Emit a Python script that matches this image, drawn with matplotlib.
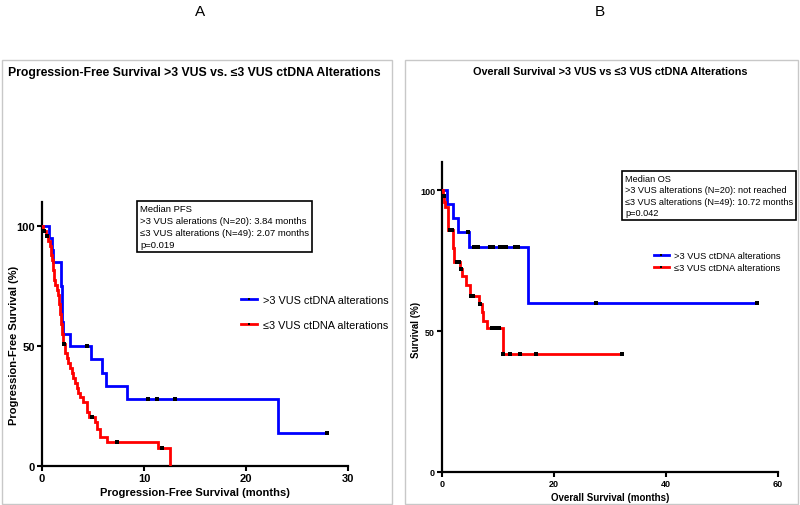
import matplotlib
matplotlib.use('Agg')
import matplotlib.pyplot as plt
from matplotlib.patches import Rectangle
from matplotlib.lines import Line2D

plt.rcParams['font.family'] = ['Liberation Sans', 'DejaVu Sans']

# ---------------- data ----------------
# Panel A: progression-free survival (months, % surviving)
pfs_hi_t = [0, 0.69, 1.0, 1.1, 1.86, 1.99, 2.09, 2.75, 4.8, 5.9, 6.3, 8.3, 23.1, 27.9]
pfs_hi_s = [100, 95, 90, 85, 75, 60, 55, 50, 44.4, 38.9, 33.3, 27.8, 13.9, 13.9]
pfs_hi_cens_t = [4.38, 10.4, 11.3, 13.0, 27.9]
pfs_hi_cens_s = [50, 27.8, 27.8, 27.8, 13.9]

pfs_lo_t = [0, 0.10, 0.39, 0.62, 0.78, 0.88, 0.95, 1.05, 1.18, 1.31, 1.44, 1.57, 1.67,
            1.76, 1.83, 1.93, 2.09, 2.25, 2.42, 2.58, 2.75, 2.91, 3.07, 3.24, 3.40, 3.56,
            3.73, 4.05, 4.38, 4.6, 5.2, 5.36, 5.69, 6.34, 11.4, 12.55]
pfs_lo_s = [100, 98.0, 95.9, 93.9, 91.8, 87.8, 85.7, 81.6, 77.6, 75.5, 73.5, 71.4, 67.3,
            63.3, 59.2, 55.1, 51.0, 46.9, 44.9, 42.8, 40.8, 38.8, 36.7, 34.7, 32.6, 30.6,
            28.6, 26.5, 22.4, 20.4, 18.4, 15.3, 12.2, 10.2, 7.6, 0]
pfs_lo_cens_t = [0.2, 0.45, 2.15, 4.87, 7.4, 11.8]
pfs_lo_cens_s = [98.0, 95.9, 51.0, 20.4, 10.2, 7.6]

# Panel B: overall survival
os_hi_t = [0, 0.83, 2.0, 2.8, 4.8, 15.3, 56.3]
os_hi_s = [100, 95, 90, 85, 79.9, 59.9, 59.9]
os_hi_cens_t = [4.6, 5.8, 6.4, 8.5, 9.1, 10.3, 10.9, 11.5, 13.0, 13.6, 27.5, 56.3]
os_hi_cens_s = [85, 79.9, 79.9, 79.9, 79.9, 79.9, 79.9, 79.9, 79.9, 79.9, 59.9, 59.9]

os_lo_t = [0, 0.2, 0.4, 0.6, 1.13, 1.9, 2.14, 3.2, 3.5, 4.29, 5.0, 6.67, 7.1, 7.4, 8.1, 10.83, 32.1]
os_lo_s = [100, 98.0, 95.9, 93.9, 85.7, 79.6, 74.4, 72.1, 69.6, 66.3, 62.3, 59.6, 56.6, 53.7, 51.0, 41.8, 41.8]
os_lo_cens_t = [0.3, 1.4, 1.7, 2.6, 3.1, 3.35, 5.1, 5.5, 6.75, 8.9, 9.5, 10.1, 10.9, 12.1, 13.9, 16.7, 32.1]
os_lo_cens_s = [98.0, 85.7, 85.7, 74.4, 74.4, 72.1, 62.3, 62.3, 59.6, 51.0, 51.0, 51.0, 41.8, 41.8, 41.8, 41.8, 41.8]

label_hi = '>3 VUS ctDNA alterations'
label_lo = '\u22643 VUS ctDNA alterations'

BLUE = '#0000FF'
RED = '#FF0000'

W, H = 800, 506
fig = plt.figure(figsize=(8, 5.06), dpi=100)
fig.patch.set_facecolor('white')


def fx(px):
    return px / W


def fy(py):
    return 1 - py / H


# panel frames
for x0, x1 in [(2, 392), (405, 798)]:
    fig.patches.append(Rectangle((fx(x0), fy(505)), (x1 - x0) / W, (505 - 61) / H,
                                 transform=fig.transFigure, fill=False,
                                 ec='#c8c8c8', lw=1))

fig.text(fx(200), fy(12), 'A', ha='center', va='center', fontsize=11)
fig.text(fx(600), fy(12), 'B', ha='center', va='center', fontsize=11)


def style_axis(ax, fs):
    for s in ['top', 'right']:
        ax.spines[s].set_visible(False)
    for s in ['left', 'bottom']:
        ax.spines[s].set_linewidth(1.6)
        ax.spines[s].set_clip_on(False)
    ax.tick_params(width=1.5, length=3.5, labelsize=fs, pad=1.5)
    for lab in ax.get_xticklabels() + ax.get_yticklabels():
        lab.set_fontweight('bold')


def draw_curve(ax, t, s, ct, cs, color):
    ax.step(t, s, where='post', color=color, lw=2.0, solid_joinstyle='miter', zorder=3)
    ax.plot(ct, cs, ls='none', marker='s', ms=2.3, mew=0, color='black', zorder=4)


# ---------------- Panel A ----------------
axA = fig.add_axes([fx(42), fy(467), 306 / W, 264 / H])
draw_curve(axA, pfs_hi_t, pfs_hi_s, pfs_hi_cens_t, pfs_hi_cens_s, BLUE)
draw_curve(axA, pfs_lo_t, pfs_lo_s, pfs_lo_cens_t, pfs_lo_cens_s, RED)
axA.set_xlim(0, 30)
axA.set_ylim(0, 110)
axA.set_xticks([0, 10, 20, 30])
axA.set_yticks([0, 50, 100])
style_axis(axA, 8)
axA.set_xlabel('Progression-Free Survival (months)', fontsize=8, fontweight='bold', labelpad=3)
fig.text(fx(14), fy(345), 'Progression-Free Survival (%)', rotation=90,
         ha='center', va='center', fontsize=8, fontweight='bold')

fig.text(8 / W, fy(73), 'Progression-Free Survival >3 VUS vs. \u22643 VUS ctDNA Alterations',
         ha='left', va='center', fontsize=8.8, fontweight='bold')

fig.text(fx(140), fy(205),
         'Median PFS\n>3 VUS alerations (N=20): 3.84 months\n'
         '\u22643 VUS alterations (N=49): 2.07 months\np=0.019',
         ha='left', va='top', fontsize=6.8, linespacing=1.45,
         bbox=dict(boxstyle='square,pad=0.3', fc='white', ec='black', lw=1.2))

hA = [Line2D([], [], color=BLUE, lw=2, marker='s', ms=1.8, mew=0, mfc='k'),
      Line2D([], [], color=RED, lw=2, marker='s', ms=1.8, mew=0, mfc='k')]
fig.legend(hA, [label_hi, label_lo], loc='upper left',
           bbox_to_anchor=(fx(241), fy(296)), bbox_transform=fig.transFigure,
           frameon=False, fontsize=7.8, handlelength=1.45, handletextpad=0.6,
           labelspacing=1.4, borderpad=0, borderaxespad=0)

# ---------------- Panel B ----------------
axB = fig.add_axes([fx(442), fy(473), 336 / W, 310 / H])
draw_curve(axB, os_hi_t, os_hi_s, os_hi_cens_t, os_hi_cens_s, BLUE)
draw_curve(axB, os_lo_t, os_lo_s, os_lo_cens_t, os_lo_cens_s, RED)
axB.set_xlim(0, 60)
axB.set_ylim(0, 110)
axB.set_xticks([0, 20, 40, 60])
axB.set_yticks([0, 50, 100])
style_axis(axB, 6.5)
axB.set_xlabel('Overall Survival (months)', fontsize=7, fontweight='bold', labelpad=3)
fig.text(fx(416), fy(330), 'Survival (%)', rotation=90,
         ha='center', va='center', fontsize=7, fontweight='bold')

fig.text(fx(610), fy(72), 'Overall Survival >3 VUS vs \u22643 VUS ctDNA Alterations',
         ha='center', va='center', fontsize=7.8, fontweight='bold')

fig.text(fx(625), fy(175),
         'Median OS\n>3 VUS alterations (N=20): not reached\n'
         '\u22643 VUS alterations (N=49): 10.72 months\np=0.042',
         ha='left', va='top', fontsize=6.6, linespacing=1.35,
         bbox=dict(boxstyle='square,pad=0.3', fc='white', ec='black', lw=1.2))

hB = [Line2D([], [], color=BLUE, lw=2, marker='s', ms=1.8, mew=0, mfc='k'),
      Line2D([], [], color=RED, lw=2, marker='s', ms=1.8, mew=0, mfc='k')]
fig.legend(hB, [label_hi, label_lo], loc='upper left',
           bbox_to_anchor=(fx(654), fy(252)), bbox_transform=fig.transFigure,
           frameon=False, fontsize=6.7, handlelength=1.6, handletextpad=0.6,
           labelspacing=0.3, borderpad=0, borderaxespad=0)

fig.savefig('out.png', dpi=100, facecolor='white')
